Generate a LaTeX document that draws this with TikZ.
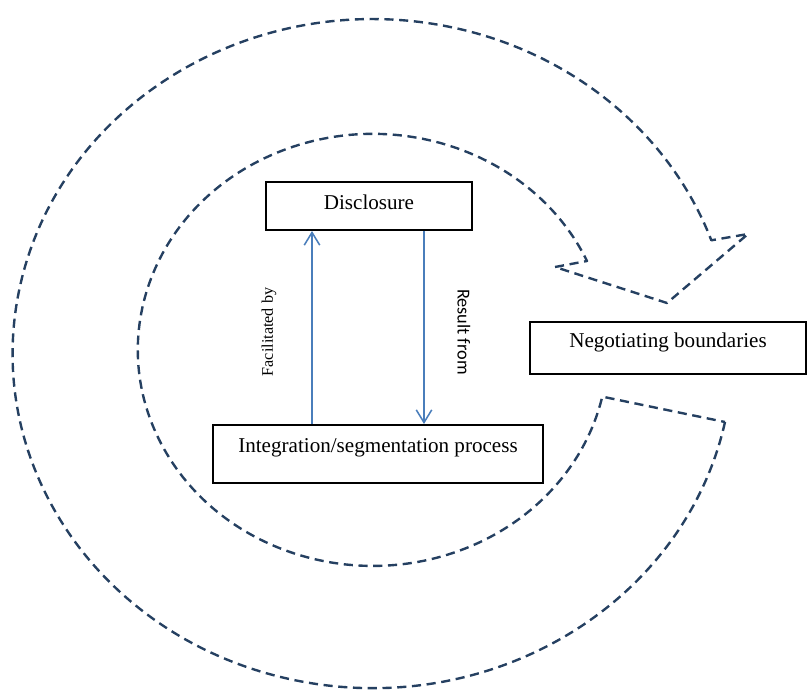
\documentclass[tikz,border=0pt]{standalone}
\usepackage{fontspec}
\setmainfont{Liberation Serif}
\newfontfamily\labelfont{Carlito}
\usepackage{tikz}
\usetikzlibrary{arrows.meta}
\usetikzlibrary{positioning,calc}
\definecolor{arcnavy}{RGB}{37,64,97}
\definecolor{linkblue}{RGB}{74,126,187}
\tikzset{
	box/.style={draw=black, line width=1.4pt, fill=white, text height=0.4cm},
	flow/.style={draw=arcnavy, line width=1.7pt, dash pattern=on 6.5pt off 4pt, line join=round},
	link/.style={draw=linkblue, line width=1.1pt, ->},
}

\begin{document}
\begin{tikzpicture}[>={Straight Barb[length=9pt,width=11pt]}, x=0.025cm, y=0.025cm, font=\fontsize{15}{18}\selectfont]
			\useasboundingbox (0,0) rectangle (808,691);
			\coordinate (outlow) at (725,269);
			\coordinate (barbout) at (748,457);
			\coordinate (tip) at (667,388);
			\coordinate (barbin) at (555,424);
			\coordinate (inend) at (587,430);
			\draw[flow] (outlow) arc[start angle=-11.8, end angle=-340.2, x radius=360, y radius=334.5] -- (barbout) -- (tip) -- (barbin) -- (inend) arc[start angle=24.3, end angle=347.5, x radius=235, y radius=216] -- cycle;
			\node[box, minimum width=5.15cm, minimum height=1.2cm, text depth=0.2cm] (disc) at (369,485) {Disclosure};
			\node[box, minimum width=8.25cm, minimum height=1.45cm, text depth=0.45cm] (integ) at (378,237) {Integration/segmentation process};
			\node[box, minimum width=6.9cm, minimum height=1.3cm, text depth=0.4cm] (nego) at (668,343) {Negotiating boundaries};
			\coordinate (upx) at (312,0);
			\coordinate (downx) at (424,0);
			\draw[link] (integ.north -| upx) -- (disc.south -| upx);
			\draw[link] (disc.south -| downx) -- (integ.north -| downx);
			\node[rotate=90, font=\fontsize{11.5}{14}\selectfont] (facil) at (269,359) {Facilitated by};
			\node[rotate=-90, font=\labelfont\fontsize{13}{15}\selectfont] (result) at (464,359) {Result from};
			\end{tikzpicture}
\end{document}
